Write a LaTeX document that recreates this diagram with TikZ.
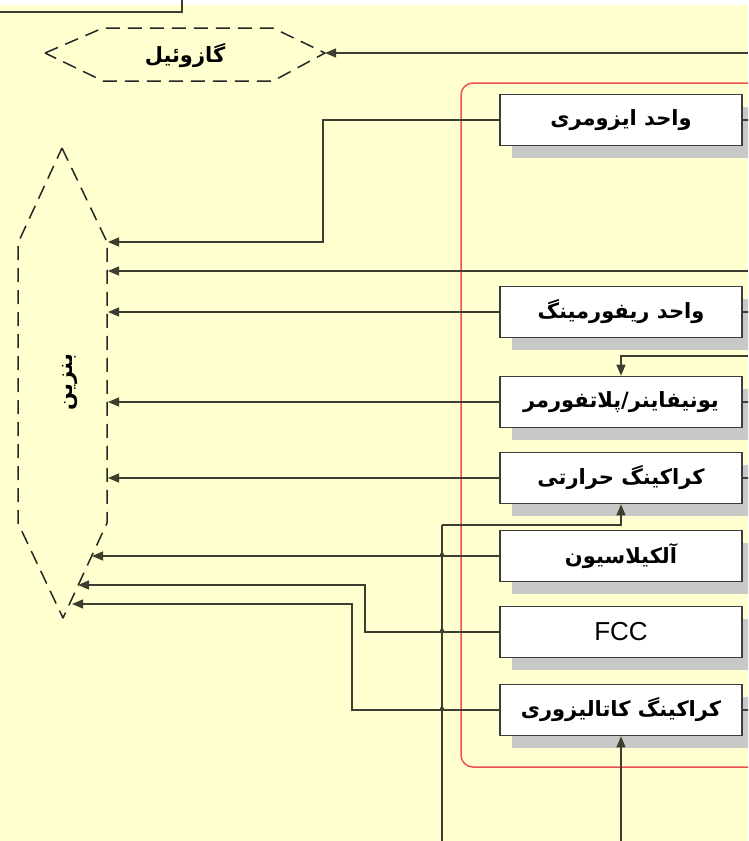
\documentclass[tikz,border=0pt]{standalone}
\usepackage{fontspec}
\setmainfont{Liberation Sans}
\newfontfamily\fa[Script=Arabic]{DejaVu Sans}
\TeXXeTstate=1
\usetikzlibrary{arrows.meta,calc,shadows}
\definecolor{bgc}{RGB}{255,255,208}
\definecolor{linec}{RGB}{62,62,48}
\definecolor{boxc}{RGB}{60,60,60}
\definecolor{shadowc}{RGB}{200,200,200}
\definecolor{redc}{RGB}{240,80,80}
\newcommand{\fatxt}[1]{{\fa\bfseries\beginR #1\endR}}
\begin{document}
\begin{tikzpicture}[x=1pt,y=-1pt,
  unitbox/.style={draw=boxc, fill=white, line width=1.6pt, minimum width=242pt, minimum height=51pt, inner sep=0pt,
    font=\fontsize{21}{24}\selectfont,
    drop shadow={shadow xshift=12pt, shadow yshift=-12pt, opacity=1, fill=shadowc}},
  arr/.style={draw=linec, line width=1.2pt, -{Triangle[length=11pt,width=9pt]}},
  ln/.style={draw=linec, line width=1.2pt},
  hexline/.style={draw=black!85, line width=1.5pt, dash pattern=on 14pt off 8pt, line join=round},
  lbl/.style={font=\fontsize{21}{24}\selectfont, inner sep=0pt}
]
\useasboundingbox (0,0) rectangle (748,841);
\clip (0,0) rectangle (748,841);
\fill[bgc] (0,0) rectangle (748,841);
\fill[white] (0,0) rectangle (748,5);

% top-left fragment
\coordinate (tl1) at (0,12);
\coordinate (tl2) at (182,12);
\coordinate (tl3) at (182,0);
\draw[ln] (tl1) -- (tl2) -- (tl3);

% red frame
\draw[redc, line width=1.5pt, rounded corners=12pt] (461,83) rectangle (770,767);

% gasoil hexagon
\draw[hexline] (45,53) -- (103,28) -- (273,28) -- (325,53) -- (273,81) -- (103,81) -- cycle;
\node[lbl] (gas) at (185,56) {\fatxt{گازوئیل}};
\coordinate (gtip) at (325,53);

% petrol hexagon
\draw[hexline] (62,148) -- (107,242) -- (107,523) -- (63,618) -- (18,523) -- (18,243) -- cycle;
\node[lbl, rotate=90] (benz) at (70,382) {\fatxt{بنزین}};
\coordinate (p1) at (108,242);
\coordinate (p2) at (108,271);
\coordinate (p3) at (108,312);
\coordinate (p5) at (108,402);
\coordinate (p6) at (108,478);
\coordinate (p7) at (92,556);
\coordinate (p8) at (78,585);
\coordinate (p9) at (72,604);

% right edge entry points
\coordinate (r0) at (748,53);
\coordinate (r2) at (748,271);
\coordinate (r4) at (748,356);
\coordinate (b1) at (442,841);
\coordinate (b2) at (621,841);
\coordinate (j1) at (323,242);
\coordinate (j8) at (365,585);
\coordinate (j9) at (352,604);
\coordinate (j10) at (442,525);

% lines (behind boxes)
\draw[arr] (r0) -- (gtip);
\draw[arr] (r2) -- (p2);
\draw[ln] (b1) -- (j10);

% boxes
\node[unitbox] (iso) at (621,120) {\fatxt{واحد ایزومری}};
\node[unitbox] (ref) at (621,312) {\fatxt{واحد ریفورمینگ}};
\node[unitbox] (uni) at (621,402) {\fatxt{یونیفاینر/پلاتفورمر}};
\node[unitbox] (thr) at (621,478) {\fatxt{کراکینگ حرارتی}};
\node[unitbox] (alk) at (621,556) {\fatxt{آلکیلاسیون}};
\node[unitbox, font=\fontsize{26}{30}\selectfont] (fcc) at (621,632) {FCC};
\node[unitbox] (cat) at (621,710) {\fatxt{کراکینگ کاتالیزوری}};

% connectors
\draw[arr] (iso.west) -| (j1) -- (p1);
\draw[arr] (ref.west) -- (p3);
\draw[arr] (r4) -| (uni.north);
\draw[arr] (uni.west) -- (p5);
\draw[arr] (thr.west) -- (p6);
\draw[arr] (alk.west) -- (p7);
\draw[arr] (fcc.west) -| (j8) -- (p8);
\draw[arr] (cat.west) -| (j9) -- (p9);
\draw[arr] (j10) -| (thr.south);
\draw[arr] (b2) -- (cat.south);

% right stubs
\foreach \b in {iso,ref,uni,thr,cat}{
  \draw[ln] (\b.east) -- ($(\b.east)+(10,0)$);
}

% crossing marks
\foreach \yy in {556,632,710}{
  \fill[linec] (439,\yy) -- (445,\yy) -- (442,\yy-5) -- cycle;
}
\end{tikzpicture}
\end{document}
